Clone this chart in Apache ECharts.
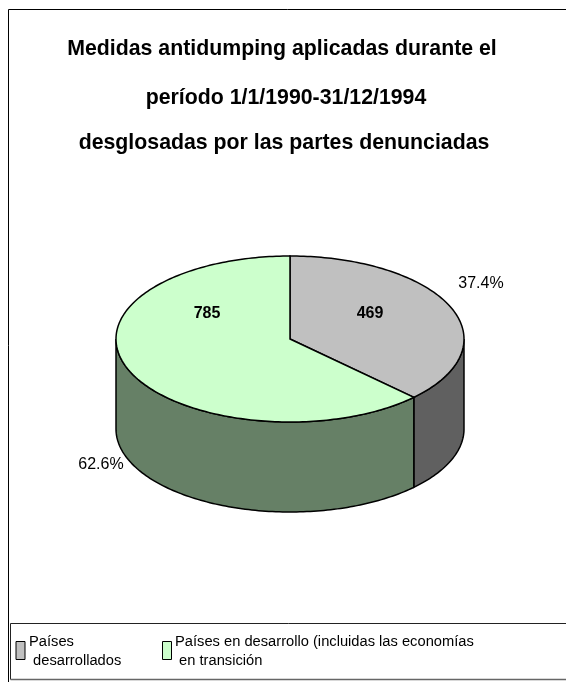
<!DOCTYPE html>
<html>
<head>
<meta charset="utf-8">
<style>
  html, body { margin: 0; padding: 0; background: #fff; }
  #grafico { width: 566px; height: 682px; }
</style>
<script src="https://cdn.jsdelivr.net/npm/echarts@6/dist/echarts.min.js"></script>
</head>
<body>
<div id="grafico"></div>
<script>
const titleLines = [
  'Medidas antidumping aplicadas durante el',
  'período 1/1/1990-31/12/1994',
  'desglosadas por las partes denunciadas'
];
const categories = ['Países\n desarrollados', 'Países en desarrollo (incluidas las economías\n en transición'];
const values = [469, 785];
const percentLabels = ['37.4%', '62.6%'];
const topColors = ['#c0c0c0', '#ccffcc'];
const wallColors = ['#606060', '#668066'];

const fontName = '"Liberation Sans", Arial, sans-serif';
const total = values[0] + values[1];

// geometria da pizza 3D
const cx = 290, cy = 339, rx = 174, ry = 83, depth = 90;
const valueLabelPos = [[370, 314], [207, 314]];
const percentLabelPos = [[481, 284], [101, 465]];

function rimPoint(angle, dy) {
  return [cx + rx * Math.sin(angle), cy - ry * Math.cos(angle) + dy];
}

function arcPoints(from, to, dy) {
  const pts = [];
  const steps = Math.max(2, Math.ceil(Math.abs(to - from) / 0.02));
  for (let i = 0; i <= steps; i++) {
    pts.push(rimPoint(from + (to - from) * i / steps, dy));
  }
  return pts;
}

function renderSlice(params, api) {
  const i = params.dataIndex;
  let before = 0;
  for (let k = 0; k < i; k++) before += values[k];
  const start = before / total * Math.PI * 2;
  const end = (before + api.value(0)) / total * Math.PI * 2;
  const children = [];

  // parede lateral, so a parte da frente aparece
  const wallFrom = Math.max(start, Math.PI / 2);
  const wallTo = Math.min(end, Math.PI * 3 / 2);
  if (wallTo > wallFrom) {
    const wall = arcPoints(wallFrom, wallTo, 0).concat(arcPoints(wallTo, wallFrom, depth));
    children.push({
      type: 'polygon',
      shape: { points: wall },
      style: { fill: wallColors[i], stroke: '#000', lineWidth: 1.5 }
    });
  }

  // tampa
  const top = [[cx, cy]].concat(arcPoints(start, end, 0));
  children.push({
    type: 'polygon',
    shape: { points: top },
    style: { fill: topColors[i], stroke: '#000', lineWidth: 1.5 }
  });

  children.push({
    type: 'text',
    style: {
      x: valueLabelPos[i][0], y: valueLabelPos[i][1], text: String(api.value(0)),
      font: 'bold 16px ' + fontName, fill: '#000', align: 'center', verticalAlign: 'middle'
    }
  });
  children.push({
    type: 'text',
    style: {
      x: percentLabelPos[i][0], y: percentLabelPos[i][1], text: percentLabels[i],
      font: '16px ' + fontName, fill: '#000', align: 'center', verticalAlign: 'middle'
    }
  });
  return { type: 'group', children: children };
}

const grafico = echarts.init(document.getElementById('grafico'));

const option = {
  animation: false,
  title: titleLines.map((text, i) => ({
    text: text,
    left: [277, 281, 279][i],
    textAlign: 'center',
    top: [32, 81, 126][i],
    textStyle: { fontFamily: fontName, fontWeight: 'bold', fontSize: 21.3, color: '#000', lineHeight: 24 }
  })),
  graphic: [
    // moldura do grafico (aberta a direita, como no original)
    { type: 'polyline', silent: true, shape: { points: [[8.5, 682], [8.5, 9.5], [566, 9.5]] }, style: { fill: null, stroke: '#000', lineWidth: 1 } },
    // caixa da legenda
    { type: 'polyline', silent: true, shape: { points: [[566, 623.5], [10.5, 623.5], [10.5, 679.5]] }, style: { fill: null, stroke: '#222', lineWidth: 1 } },
    { type: 'polyline', silent: true, shape: { points: [[10.5, 679.5], [566, 679.5]] }, style: { fill: null, stroke: '#666', lineWidth: 1.5 } },
    { type: 'rect', shape: { x: 16, y: 641.5, width: 9, height: 18 }, style: { fill: topColors[0], stroke: '#000', lineWidth: 1 } },
    { type: 'rect', shape: { x: 162.5, y: 641.5, width: 9, height: 18 }, style: { fill: topColors[1], stroke: '#000', lineWidth: 1 } },
    { type: 'text', style: { x: 29, y: 632, text: categories[0], font: '14.7px ' + fontName, fill: '#000', lineHeight: 19 } },
    { type: 'text', style: { x: 175, y: 632, text: categories[1], font: '14.7px ' + fontName, fill: '#000', lineHeight: 19 } }
  ],
  series: [
    {
      type: 'custom',
      coordinateSystem: 'none',
      renderItem: renderSlice,
      data: values.map((v, i) => ({ value: [v], name: categories[i] }))
    }
  ]
};

grafico.setOption(option);
</script>
</body>
</html>
